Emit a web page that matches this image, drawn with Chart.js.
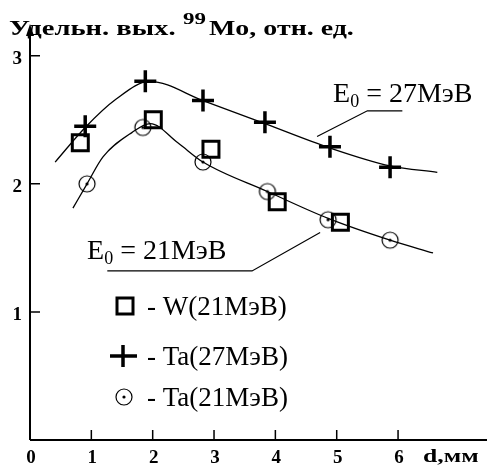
<!DOCTYPE html>
<html lang="ru">
<head>
<meta charset="UTF-8">
<script src="https://cdn.jsdelivr.net/npm/chart.js"></script>
<title>Удельный выход 99Mo</title>
<style>
  body { margin: 0; background: #fff; }
  .box { width: 487px; height: 469px; position: relative; }
</style>
</head>
<body>
<div class="box"><canvas id="grafico"></canvas></div>
<script>
// оси
const xTickVals = [0, 1, 2, 3, 4, 5, 6];
const xTickLabels = ['0', '1', '2', '3', '4', '5', '6'];
const yTickVals = [1, 2, 3];
const yTickLabels = ['1', '2', '3'];

// W (21 МэВ) - квадраты
const dW = [0.82, 2.01, 2.95, 4.03, 5.06];
const vW = [2.32, 2.50, 2.27, 1.86, 1.70];
// Ta (27 МэВ) - кресты
const dTa27 = [0.90, 1.88, 2.82, 3.83, 4.89, 5.87];
const vTa27 = [2.45, 2.80, 2.65, 2.48, 2.29, 2.13];
// Ta (21 МэВ) - кружки
const dTa21 = [0.93, 1.84, 2.82, 3.87, 4.86, 5.87];
const vTa21 = [2.00, 2.44, 2.17, 1.94, 1.72, 1.56];

// сглаженные кривые
const dCurve27 = [0.41, 0.90, 1.40, 1.95, 2.82, 3.83, 4.89, 5.87, 6.64];
const vCurve27 = [2.17, 2.44, 2.66, 2.80, 2.65, 2.47, 2.28, 2.14, 2.09];
const dCurve21 = [0.70, 0.93, 1.19, 1.66, 1.96, 2.41, 2.82, 3.87, 4.86, 5.87, 6.57];
const vCurve21 = [1.81, 2.00, 2.21, 2.40, 2.47, 2.32, 2.17, 1.94, 1.73, 1.56, 1.46];

// подписи
const label27 = ['E', '0', ' = 27MэВ'];
const label21 = ['E', '0', ' = 21MэВ'];
const legendNames = ['- W(21MэВ)', '- Ta(27MэВ)', '- Ta(21MэВ)'];

const pts = (xs, ys) => xs.map((x, i) => ({ x: x, y: ys[i] }));

// кружок с точкой
const circ = document.createElement('canvas');
circ.width = 22; circ.height = 22;
(function () {
  const c = circ.getContext('2d');
  c.strokeStyle = '#000'; c.lineWidth = 1.2;
  c.beginPath(); c.arc(11, 11, 8, 0, Math.PI * 2); c.stroke();
  c.fillStyle = '#000';
  c.beginPath(); c.arc(11, 11, 1.6, 0, Math.PI * 2); c.fill();
})();

const serif = '"Liberation Serif", "Times New Roman", serif';

// широкий текст (растянутый по горизонтали)
function wideText(ctx, text, x, y, sx) {
  ctx.save();
  ctx.translate(x, y);
  ctx.scale(sx, 1);
  ctx.fillText(text, 0, 0);
  ctx.restore();
}

const decor = {
  id: 'decor',
  afterDraw(chart) {
    const ctx = chart.ctx;
    const xs = chart.scales.x, ys = chart.scales.y;
    const X = v => xs.getPixelForValue(v), Y = v => ys.getPixelForValue(v);
    const x0 = X(0), y0 = Y(0);
    ctx.save();
    ctx.strokeStyle = '#000'; ctx.fillStyle = '#000';

    // оси
    ctx.lineWidth = 2;
    ctx.beginPath();
    ctx.moveTo(x0, y0); ctx.lineTo(chart.width, y0);
    ctx.moveTo(x0, y0); ctx.lineTo(x0, chart.chartArea.top + 6);
    ctx.stroke();
    ctx.beginPath();
    ctx.moveTo(x0, chart.chartArea.top - 1);
    ctx.lineTo(x0 - 4, chart.chartArea.top + 11);
    ctx.lineTo(x0 + 4, chart.chartArea.top + 11);
    ctx.closePath(); ctx.fill();

    // засечки внутрь
    ctx.lineWidth = 1.5;
    ctx.beginPath();
    xTickVals.forEach(v => { if (v > 0) { ctx.moveTo(X(v), y0); ctx.lineTo(X(v), y0 - 10); } });
    yTickVals.forEach(v => { ctx.moveTo(x0, Y(v)); ctx.lineTo(x0 + 10, Y(v)); });
    ctx.stroke();

    // подписи делений
    ctx.font = 'bold 19px ' + serif;
    ctx.textAlign = 'center'; ctx.textBaseline = 'middle';
    xTickVals.forEach((v, i) => ctx.fillText(xTickLabels[i], X(v) + 1, y0 + 18));
    ctx.textAlign = 'right';
    yTickVals.forEach((v, i) => ctx.fillText(yTickLabels[i], x0 - 8, Y(v) + 3));
    ctx.textAlign = 'left';
    ctx.font = 'bold 19px ' + serif;
    wideText(ctx, 'd,мм', 423, y0 + 17, 1.35);

    // заголовок оси Y
    ctx.textBaseline = 'alphabetic';
    ctx.font = 'bold 22px ' + serif;
    wideText(ctx, 'Удельн. вых.', 9, 35, 1.3);
    ctx.font = 'bold 17px ' + serif;
    wideText(ctx, '99', 183, 24, 1.35);
    ctx.font = 'bold 22px ' + serif;
    wideText(ctx, 'Mo, отн. ед.', 209, 35, 1.27);

    // подписи энергий
    const energy = (parts, xv, yv) => {
      let px = X(xv), py = Y(yv);
      ctx.font = '28px ' + serif;
      ctx.fillText(parts[0], px, py);
      px += ctx.measureText(parts[0]).width;
      ctx.font = '18px ' + serif;
      ctx.fillText(parts[1], px, py + 5);
      px += ctx.measureText(parts[1]).width;
      ctx.font = '28px ' + serif;
      ctx.fillText(parts[2], px, py);
    };
    energy(label27, 4.94, 2.64);
    energy(label21, 0.93, 1.41);

    // выноски
    ctx.lineWidth = 1.2;
    ctx.beginPath();
    ctx.moveTo(X(4.68), Y(2.37)); ctx.lineTo(X(5.50), Y(2.57)); ctx.lineTo(X(6.07), Y(2.57));
    ctx.moveTo(X(1.26), Y(1.32)); ctx.lineTo(X(3.62), Y(1.32)); ctx.lineTo(X(4.73), Y(1.62));
    ctx.stroke();

    // легенда
    const rows = [306, 356, 397];
    ctx.lineWidth = 3;
    ctx.strokeRect(125 - 8, rows[0] - 8, 16, 16);
    ctx.lineWidth = 3.5;
    ctx.beginPath();
    ctx.moveTo(110, rows[1]); ctx.lineTo(137, rows[1]);
    ctx.moveTo(123, rows[1] - 11); ctx.lineTo(123, rows[1] + 11);
    ctx.stroke();
    ctx.drawImage(circ, 124 - 11, rows[2] - 11);
    ctx.font = '27px ' + serif;
    ctx.textBaseline = 'middle';
    legendNames.forEach((t, i) => ctx.fillText(t, 147, rows[i] + 2));
    ctx.restore();
  }
};

new Chart(document.getElementById('grafico'), {
  type: 'scatter',
  data: {
    datasets: [
      { data: pts(dCurve27, vCurve27), showLine: true, pointRadius: 0, borderColor: '#000', borderWidth: 1.3, cubicInterpolationMode: 'monotone' },
      { data: pts(dCurve21, vCurve21), showLine: true, pointRadius: 0, borderColor: '#000', borderWidth: 1.3, cubicInterpolationMode: 'monotone' },
      { data: pts(dW, vW), pointStyle: 'rect', pointRadius: 11.3, pointBorderWidth: 3, borderColor: '#000', backgroundColor: 'rgba(0,0,0,0)' },
      { data: pts(dTa27, vTa27), pointStyle: 'cross', pointRadius: 11, pointBorderWidth: 3.5, borderColor: '#000' },
      { data: pts(dTa21, vTa21), pointStyle: circ, pointRadius: 9 }
    ]
  },
  options: {
    responsive: true,
    maintainAspectRatio: false,
    animation: false,
    layout: { autoPadding: false, padding: { left: 30, right: 0, top: 25, bottom: 29 } },
    scales: {
      x: { type: 'linear', display: false, min: 0, max: 7.45 },
      y: { type: 'linear', display: false, min: 0, max: 3.24 }
    },
    plugins: { legend: { display: false }, tooltip: { enabled: false } }
  },
  plugins: [decor]
});
</script>
</body>
</html>
